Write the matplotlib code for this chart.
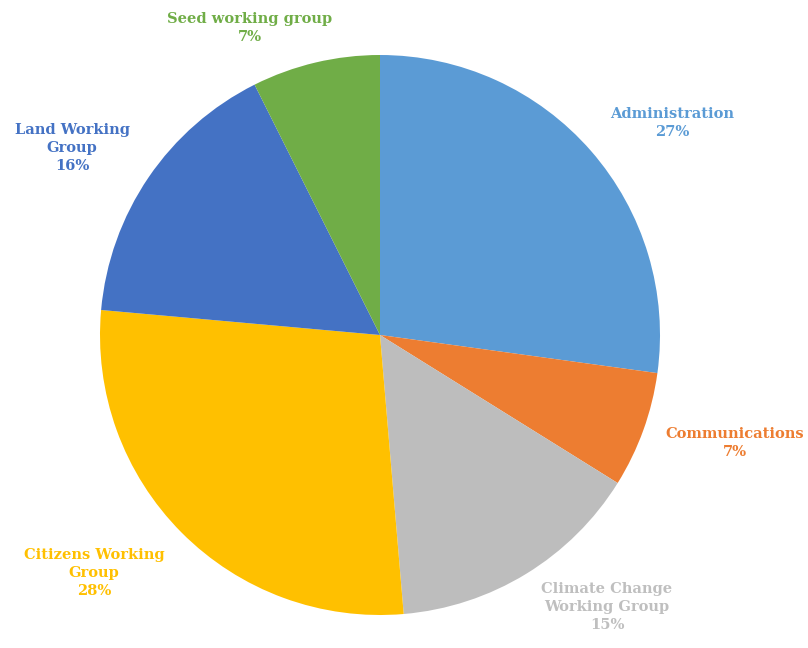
import matplotlib.pyplot as plt

labels = ["Administration", "Communications", "Climate Change\nWorking Group",
          "Citizens Working\nGroup", "Land Working\nGroup", "Seed working group"]
shares = [27.2, 6.7, 14.8, 27.8, 16.2, 7.4]
colors = ["#5B9BD5", "#ED7D31", "#BDBDBD", "#FFC000", "#4472C4", "#70AD47"]
text_colors = ["#5B9BD5", "#ED7D31", "#BFBFBF", "#FFC000", "#4472C4", "#70AD47"]

# label centres in pixels (from top-left), layout only
label_px = [(672, 123), (735, 443), (607, 607), (94, 573), (72, 148), (250, 28)]

W, H = 808, 648
cx, cy, R = 380, 335, 280

fig = plt.figure(figsize=(W / 100, H / 100), dpi=100)
ax = fig.add_axes([0, 0, 1, 1])

ax.pie(shares, colors=colors, startangle=90, counterclock=False,
       radius=1, center=(0, 0), wedgeprops=dict(linewidth=0))

ax.set_xlim(-cx / R, (W - cx) / R)
ax.set_ylim(-(H - cy) / R, cy / R)
ax.set_aspect("auto")
ax.axis("off")

total = sum(shares)
for lab, v, c, (px, py) in zip(labels, shares, text_colors, label_px):
    ax.text((px - cx) / R, (cy - py) / R, f"{lab}\n{round(v / total * 100)}%",
            ha="center", va="center", color=c, fontsize=10.5, fontweight="bold",
            family="DejaVu Serif", linespacing=1.4)

fig.savefig("out.png", dpi=100)
